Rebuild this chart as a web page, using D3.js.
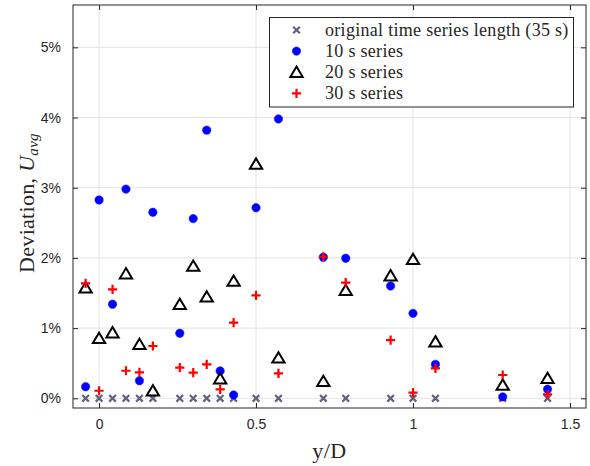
<!DOCTYPE html>
<head>
    <meta charset="utf-8">
    <title>Deviation vs y/D</title>
    <script src="https://d3js.org/d3.v7.min.js"></script>
</head>
<style>
body {
  margin: 0;
  background: #fff;
}
.tick-label {
  font-family: 'Liberation Sans', Arial, Helvetica, sans-serif;
  font-size: 14px;
  fill: #262626;
}
.serif {
  font-family: 'Liberation Serif', 'DejaVu Serif', serif;
  fill: #262626;
}
</style>
<body>
    <svg></svg>
</body>

<script>
    // Sample positions (y/D) shared by every series
    var positions = [-0.0429, 0, 0.0429, 0.0857, 0.1286, 0.1714, 0.2571, 0.3, 0.3429, 0.3857,
                     0.4286, 0.5, 0.5714, 0.7143, 0.7857, 0.9286, 1.0, 1.0714, 1.2857, 1.4286];

    // Deviation values in percent
    var original35 = [0, 0, 0, 0, 0, 0, 0, 0, 0, 0, 0, 0, 0, 0, 0, 0, 0, 0, 0, 0];
    var series10 = [0.165, 2.825, 1.34, 2.98, 0.25, 2.65, 0.926, 2.56, 3.82, 0.39,
                    0.047, 2.715, 3.98, 2.01, 1.995, 1.60, 1.21, 0.484, 0.02, 0.13];
    var series20 = [1.576, 0.855, 0.935, 1.775, 0.77, 0.108, 1.34, 1.885, 1.447, 0.28,
                    1.67, 3.337, 0.578, 0.242, 1.538, 1.747, 1.98, 0.806, 0.19, 0.285];
    var series30 = [1.638, 0.108, 1.553, 0.393, 0.37, 0.745, 0.436, 0.365, 0.484, 0.128,
                    1.077, 1.467, 0.356, 2.017, 1.647, 0.83, 0.08, 0.427, 0.332, 0.057];

    var xTicks = [0, 0.5, 1, 1.5];
    var yTicks = [0, 1, 2, 3, 4, 5];
    var legendLabels = ['original time series length (35 s)', '10 s series', '20 s series', '30 s series'];

    var vWidth = 590;
    var vHeight = 466;
    var plot = { left: 73, right: 586, top: 5, bottom: 408 };
    var axisColor = '#262626';

    var svg = d3.select('svg')
        .attr('width', vWidth)
        .attr('height', vHeight);

    var x = d3.scaleLinear().domain([-0.083, 1.551]).range([plot.left, plot.right]);
    var y = d3.scaleLinear().domain([-0.138, 5.603]).range([plot.bottom, plot.top]);

    // Grid
    var grid = svg.append('g');
    grid.selectAll('line.vg').data(xTicks).enter().append('line')
        .attr('x1', function (d) { return x(d); }).attr('x2', function (d) { return x(d); })
        .attr('y1', plot.top).attr('y2', plot.bottom)
        .attr('stroke', '#e3e3e3').attr('stroke-width', 1);
    grid.selectAll('line.hg').data(yTicks).enter().append('line')
        .attr('y1', function (d) { return y(d); }).attr('y2', function (d) { return y(d); })
        .attr('x1', plot.left).attr('x2', plot.right)
        .attr('stroke', '#e3e3e3').attr('stroke-width', 1);

    // Axes (MATLAB style: ticks inward, box on)
    var tickLen = 5;
    var axes = svg.append('g');
    axes.append('g').attr('transform', 'translate(0,' + plot.bottom + ')')
        .call(d3.axisBottom(x).tickValues(xTicks).tickSize(-tickLen).tickSizeOuter(0).tickPadding(11)
              .tickFormat(function (d) { return d3.format('')(d); }));
    axes.append('g').attr('transform', 'translate(0,' + plot.top + ')')
        .call(d3.axisTop(x).tickValues(xTicks).tickSize(-tickLen).tickSizeOuter(0).tickFormat(''));
    axes.append('g').attr('transform', 'translate(' + plot.left + ',0)')
        .call(d3.axisLeft(y).tickValues(yTicks).tickSize(-tickLen).tickSizeOuter(0).tickPadding(12)
              .tickFormat(function (d) { return d + '%'; }));
    axes.append('g').attr('transform', 'translate(' + plot.right + ',0)')
        .call(d3.axisRight(y).tickValues(yTicks).tickSize(-tickLen).tickSizeOuter(0).tickFormat(''));
    axes.selectAll('.domain').remove();
    axes.selectAll('.tick line').attr('stroke', axisColor);
    axes.selectAll('.tick text').attr('class', 'tick-label').attr('fill', null).attr('font-family', null).attr('font-size', null);

    axes.append('rect')
        .attr('x', plot.left).attr('y', plot.top)
        .attr('width', plot.right - plot.left).attr('height', plot.bottom - plot.top)
        .attr('fill', 'none').attr('stroke', axisColor).attr('stroke-width', 1);

    // Markers
    function crossPath(s) { return 'M' + -s + ',' + -s + 'L' + s + ',' + s + 'M' + -s + ',' + s + 'L' + s + ',' + -s; }
    function plusPath(s) { return 'M' + -s + ',0L' + s + ',0M0,' + -s + 'L0,' + s; }
    function triPath(s) { return 'M0,' + (-s) + 'L' + (s * 1.1) + ',' + (s * 0.85) + 'L' + (-s * 1.1) + ',' + (s * 0.85) + 'Z'; }

    var markers = [
        { values: original35, draw: function (sel) { sel.append('path').attr('d', crossPath(3.3)).attr('stroke', '#62627e').attr('stroke-width', 2.2).attr('fill', 'none'); } },
        { values: series10, draw: function (sel) { sel.append('circle').attr('r', 4.2).attr('fill', '#0000ff').attr('stroke', '#1a1aff').attr('stroke-width', 0.6); } },
        { values: series20, draw: function (sel) { sel.append('path').attr('d', triPath(5.6)).attr('stroke', '#000').attr('stroke-width', 2).attr('fill', 'none'); } },
        { values: series30, draw: function (sel) { sel.append('path').attr('d', plusPath(4.6)).attr('stroke', '#ff0000').attr('stroke-width', 2.2).attr('fill', 'none'); } }
    ];

    var marks = svg.append('g');
    markers.forEach(function (m) {
        var pts = marks.append('g').selectAll('g').data(m.values).enter().append('g')
            .attr('transform', function (d, i) { return 'translate(' + x(positions[i]) + ',' + y(d) + ')'; });
        m.draw(pts);
    });

    // Legend
    var legend = svg.append('g');
    legend.append('rect')
        .attr('x', 269.5).attr('y', 17.5).attr('width', 304).attr('height', 89.5)
        .attr('fill', '#fff').attr('stroke', axisColor).attr('stroke-width', 1);
    var rows = legend.selectAll('g.row').data(legendLabels).enter().append('g')
        .attr('transform', function (d, i) { return 'translate(296.5,' + (30 + i * 21.1) + ')'; });
    rows.each(function (d, i) { markers[i].draw(d3.select(this)); });
    rows.append('text').attr('class', 'serif')
        .attr('x', 28.5).attr('dy', '0.33em')
        .style('font-size', '18px')
        .style('letter-spacing', '0.3px')
        .text(function (d) { return d; });

    // Axis titles
    svg.append('text').attr('class', 'serif')
        .attr('x', (plot.left + plot.right) / 2).attr('y', 458)
        .attr('text-anchor', 'middle')
        .style('font-size', '22px')
        .style('letter-spacing', '0.5px')
        .text('y/D');

    var yl = svg.append('text').attr('class', 'serif')
        .attr('transform', 'translate(34,203)rotate(-90)')
        .attr('text-anchor', 'middle')
        .style('font-size', '22px')
        .style('letter-spacing', '0.3px');
    yl.append('tspan').text('Deviation, ');
    yl.append('tspan').style('font-style', 'italic').text('U');
    yl.append('tspan').style('font-style', 'italic').style('font-size', '15px').attr('dy', 4).text('avg');
</script>
